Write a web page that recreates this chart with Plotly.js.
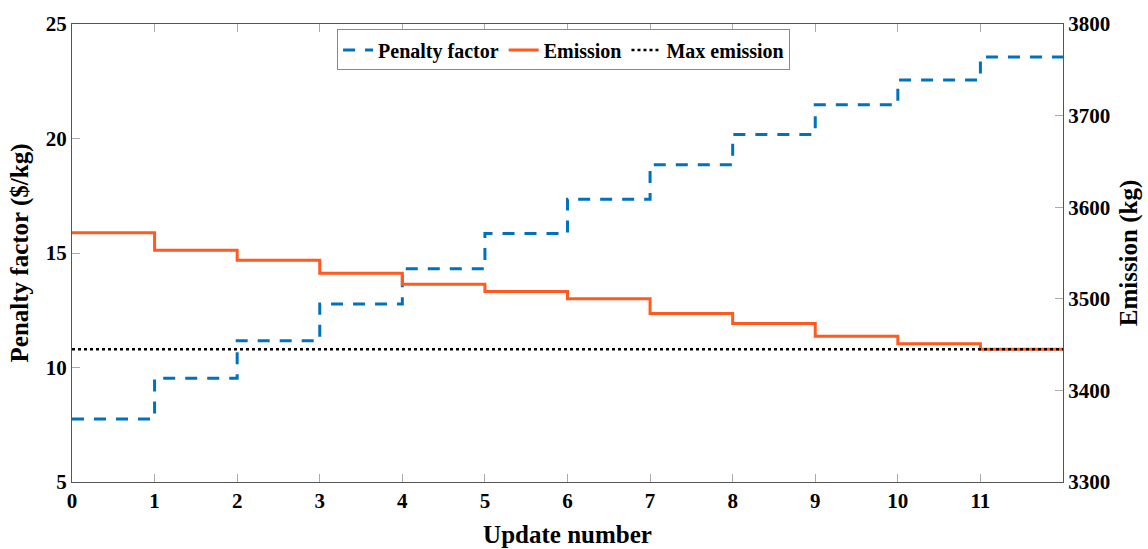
<!DOCTYPE html>
<html>
<head>
<meta charset="utf-8">
<script src="https://cdn.plot.ly/plotly-3.0.1.min.js"></script>
<style>html,body{margin:0;padding:0;background:#fff;}#chart{width:1148px;height:549px;}</style>
</head>
<body>
<div id="chart"></div>
<script>
// Update numbers 0..11 (each value holds until the next update)
const updates = [0, 1, 2, 3, 4, 5, 6, 7, 8, 9, 10, 11];
const xEnd = 12;
const penaltyFactor = [7.75, 9.53, 11.17, 12.77, 14.31, 15.85, 17.35, 18.85, 20.18, 21.47, 22.55, 23.56];
const emission = [3572, 3553, 3542, 3528, 3516, 3508, 3500, 3484, 3473, 3459, 3451, 3445];
const maxEmission = 3445;
const xTickVals = [0, 1, 2, 3, 4, 5, 6, 7, 8, 9, 10, 11];

const FONT = '"Liberation Serif", "Times New Roman", serif';

const xs = updates.concat([xEnd]);
const pen = penaltyFactor.concat([penaltyFactor[penaltyFactor.length - 1]]);
const em = emission.concat([emission[emission.length - 1]]);

const traces = [
  {x: xs, y: pen, name: 'Penalty factor', mode: 'lines', line: {shape: 'hv', color: '#0072BD', width: 3, dash: '12px,10px'}, yaxis: 'y'},
  {x: xs, y: em, name: 'Emission', mode: 'lines', line: {shape: 'hv', color: '#FF5A1F', width: 3}, yaxis: 'y2'},
  {x: [updates[0], xEnd], y: [maxEmission, maxEmission], name: 'Max emission', mode: 'lines', line: {color: '#000000', width: 2.5, dash: 'dot'}, yaxis: 'y2'}
];

const layout = {
  width: 1148, height: 549,
  margin: {l: 72, r: 85, t: 24, b: 67},
  paper_bgcolor: '#fff', plot_bgcolor: '#fff',
  font: {family: FONT, color: '#000', size: 21},
  showlegend: true,
  legend: {
    orientation: 'h', x: 0.496, xanchor: 'center', y: 0.988, yanchor: 'top',
    bgcolor: '#fff', bordercolor: '#888', borderwidth: 1,
    font: {family: FONT, size: 20, color: '#000', weight: 'bold'},
    itemwidth: 30, tracegroupgap: 0
  },
  xaxis: {
    range: [0, 12], tickvals: xTickVals, ticks: 'inside', ticklen: 8, tickcolor: '#aaa',
    showline: true, linecolor: '#555', linewidth: 1, mirror: 'ticks', showgrid: false, zeroline: false,
    tickfont: {family: FONT, size: 21, weight: 'bold'},
    title: {text: 'Update number', font: {family: FONT, size: 25, weight: 'bold'}, standoff: 13}
  },
  yaxis: {
    range: [5, 25], dtick: 5, ticks: 'inside', ticklen: 8, tickcolor: '#aaa',
    showline: true, linecolor: '#555', linewidth: 1, showgrid: false, zeroline: false,
    tickfont: {family: FONT, size: 21, weight: 'bold'},
    title: {text: 'Penalty factor ($/kg)', font: {family: FONT, size: 25, weight: 'bold'}, standoff: 10}
  },
  yaxis2: {
    range: [3300, 3800], dtick: 100, overlaying: 'y', side: 'right', ticks: 'inside', ticklen: 8, tickcolor: '#aaa',
    showline: true, linecolor: '#555', linewidth: 1, showgrid: false, zeroline: false,
    tickfont: {family: FONT, size: 21, weight: 'bold'},
    title: {text: 'Emission (kg)', font: {family: FONT, size: 25, weight: 'bold'}, standoff: 10}
  }
};

Plotly.newPlot('chart', traces, layout, {displayModeBar: false, staticPlot: true});
</script>
</body>
</html>
